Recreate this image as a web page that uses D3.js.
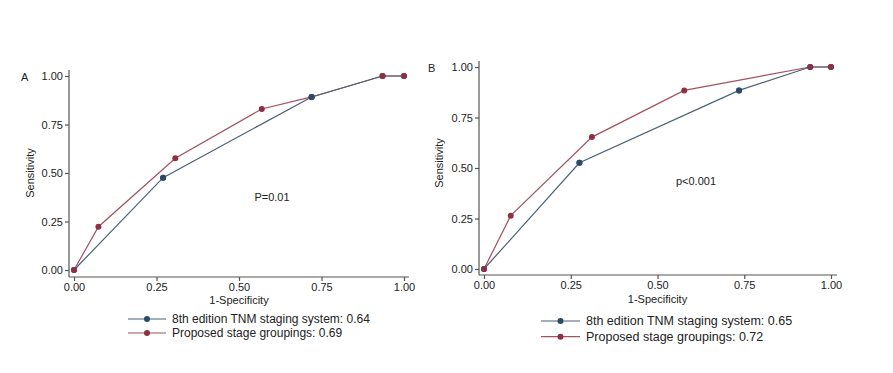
<!DOCTYPE html>
<html>
<head>
<meta charset="utf-8">
<script src="https://cdn.jsdelivr.net/npm/d3@7"></script>
<style>
  body { margin: 0; background: #fff; }
  svg text { font-family: "Liberation Sans", Arial, sans-serif; fill: #222; }
  .legend-text { font-family: "Liberation Sans Narrow", "Arial Narrow", "Liberation Sans", sans-serif; }
</style>
</head>
<body>
<svg id="chart" width="893" height="373"></svg>
<script>
// 数据
const tickValues = [0, 0.25, 0.5, 0.75, 1];
const seriesNames = ["8th edition TNM staging system", "Proposed stage groupings"];
const seriesColors = ["#2a4a66", "#8e3044"];
const lineColors = ["#4a6275", "#a0525f"];

// A 面板
const aTnmX = [0, 0.27, 0.72, 0.935, 1];
const aTnmY = [0, 0.476, 0.892, 1, 1];
const aPropX = [0, 0.074, 0.307, 0.569, 0.72, 0.935, 1];
const aPropY = [0, 0.223, 0.576, 0.83, 0.892, 1, 1];
const aAuc = [0.64, 0.69];
const aP = "P=0.01";

// B 面板
const bTnmX = [0, 0.275, 0.735, 0.94, 1];
const bTnmY = [0, 0.526, 0.884, 1, 1];
const bPropX = [0, 0.077, 0.311, 0.577, 0.94, 1];
const bPropY = [0, 0.264, 0.653, 0.884, 1, 1];
const bAuc = [0.65, 0.72];
const bP = "p<0.001";

const svg = d3.select("#chart");

function zip(xs, ys) { return xs.map((x, i) => ({ x: x, y: ys[i] })); }

function drawPanel(cfg) {
  const g = svg.append("g");
  const x = d3.scaleLinear().domain([0, 1]).range([cfg.x0, cfg.x1]);
  const y = d3.scaleLinear().domain([0, 1]).range([cfg.y0, cfg.y1]);

  // 坐标轴
  const xAxis = g.append("g")
    .attr("transform", `translate(0,${cfg.axisY})`)
    .call(d3.axisBottom(x).tickValues(tickValues).tickFormat(d3.format(".2f"))
      .tickSize(4).tickPadding(2).tickSizeOuter(0));
  xAxis.select(".domain").attr("d", `M${cfg.axisX},0H${cfg.xEnd}`);
  const yAxis = g.append("g")
    .attr("transform", `translate(${cfg.axisX},0)`)
    .call(d3.axisLeft(y).tickValues(tickValues).tickFormat(d3.format(".2f"))
      .tickSize(4).tickPadding(2).tickSizeOuter(0));
  yAxis.select(".domain").attr("d", `M0,${cfg.yTop}V${cfg.axisY}`);
  g.selectAll(".domain, .tick line").attr("stroke", "#555").attr("stroke-width", 1.2);
  g.selectAll(".tick text").attr("font-size", 11).attr("fill", "#222")
    .style("font-family", "'Liberation Sans', Arial, sans-serif");

  // 轴标题
  g.append("text").attr("x", (cfg.x0 + cfg.x1) / 2).attr("y", cfg.xTitleY)
    .attr("text-anchor", "middle").attr("font-size", 11).text("1-Specificity");
  g.append("text").attr("transform", `translate(${cfg.yTitleX},${cfg.yTitleY}) rotate(-90)`)
    .attr("text-anchor", "middle").attr("font-size", 11).text("Sensitivity");
  g.append("text").attr("x", cfg.labelX).attr("y", cfg.labelY).attr("dy", "0.35em")
    .attr("font-size", 11).text(cfg.label);
  g.append("text").attr("x", cfg.pX).attr("y", cfg.pY).attr("dy", "0.35em")
    .attr("text-anchor", "middle").attr("font-size", 11).text(cfg.p);

  // 折线
  const line = d3.line().x(d => x(d.x)).y(d => y(d.y));
  [[zip(cfg.propX, cfg.propY), 1], [zip(cfg.tnmX, cfg.tnmY), 0]].forEach(([s, i]) => {
    g.append("path").datum(s).attr("d", line).attr("fill", "none")
      .attr("stroke", lineColors[i]).attr("stroke-width", 1.2);
  });
  // 点：蓝先，红后；中间的蓝点再画在最上面
  [zip(cfg.tnmX, cfg.tnmY), zip(cfg.propX, cfg.propY)].forEach((s, i) => {
    g.selectAll(null).data(s).enter().append("circle")
      .attr("cx", d => x(d.x)).attr("cy", d => y(d.y)).attr("r", 3)
      .attr("fill", seriesColors[i]);
  });
  g.selectAll(null).data(zip(cfg.tnmX, cfg.tnmY).filter(d => d.y < 1 && d.x > 0)).enter()
    .append("circle").attr("cx", d => x(d.x)).attr("cy", d => y(d.y)).attr("r", 3)
    .attr("fill", seriesColors[0]);

  // 图例
  seriesNames.forEach((name, i) => {
    const ly = cfg.legY + i * cfg.legGap;
    g.append("line").attr("x1", cfg.legX).attr("x2", cfg.legX + cfg.legLen)
      .attr("y1", ly).attr("y2", ly).attr("stroke", lineColors[i]).attr("stroke-width", 1.2);
    g.append("circle").attr("cx", cfg.legX + cfg.legLen / 2).attr("cy", ly).attr("r", 3)
      .attr("fill", seriesColors[i]);
    g.append("text").attr("class", "legend-text").attr("x", cfg.legX + cfg.legLen + 6)
      .attr("y", ly).attr("dy", "0.35em").attr("font-size", cfg.legFont)
      .text(`${name}: ${cfg.auc[i].toFixed(2)}`);
  });
}

drawPanel({
  x0: 74, x1: 404, y0: 270, y1: 76, axisX: 69, axisY: 277, xEnd: 409, yTop: 70,
  xTitleY: 304, yTitleX: 34, yTitleY: 173, label: "A", labelX: 21, labelY: 77,
  p: aP, pX: 272, pY: 197, tnmX: aTnmX, tnmY: aTnmY, propX: aPropX, propY: aPropY,
  auc: aAuc, legX: 128, legLen: 38, legY: 319, legGap: 14, legFont: 12
});

drawPanel({
  x0: 484, x1: 831, y0: 269, y1: 67, axisX: 479, axisY: 275, xEnd: 837, yTop: 61,
  xTitleY: 303, yTitleX: 443, yTitleY: 163, label: "B", labelX: 428, labelY: 68,
  p: bP, pX: 696, pY: 181, tnmX: bTnmX, tnmY: bTnmY, propX: bPropX, propY: bPropY,
  auc: bAuc, legX: 541, legLen: 39, legY: 321, legGap: 15.7, legFont: 12.5
});
</script>
</body>
</html>
